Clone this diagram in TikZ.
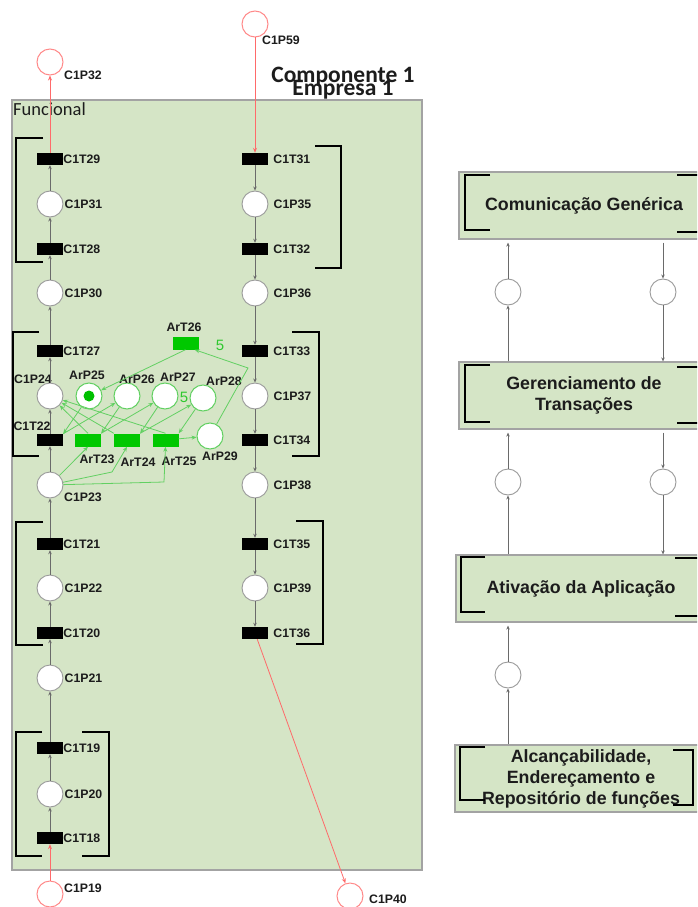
\documentclass[tikz,border=0pt]{standalone}
\usepackage{fontspec}
\setmainfont{Liberation Sans}
\newfontfamily\calib{Carlito}
\usetikzlibrary{arrows.meta,calc}

\definecolor{panel}{HTML}{D5E5C6}
\definecolor{panelline}{HTML}{A3A3A3}
\definecolor{plgray}{HTML}{9A9A9A}
\definecolor{arcgray}{HTML}{6A6A6A}
\definecolor{redc}{HTML}{FF8A8A}
\definecolor{redline}{HTML}{FF6A6A}
\definecolor{grline}{HTML}{62D062}
\definecolor{grfill}{HTML}{00C800}
\definecolor{grtok}{HTML}{00C000}
\definecolor{grtext}{HTML}{2FC82F}
\definecolor{txt}{HTML}{1C1C1C}

\newcommand\lblfont{\fontsize{12.3}{14}\selectfont\bfseries}
\newcommand\boxfont{\fontsize{17.8}{21}\selectfont\bfseries}

\begin{document}
\begin{tikzpicture}[x=1pt,y=-1pt,
  place/.style={circle, draw=plgray, fill=white, line width=0.9pt, minimum size=26pt, inner sep=0pt},
  trans/.style={rectangle, fill=black, minimum width=26pt, minimum height=12pt, inner sep=0pt},
  rplace/.style={circle, draw=redc, line width=1pt, minimum size=26pt, inner sep=0pt},
  aplace/.style={circle, draw=grline, fill=white, line width=1pt, minimum size=26pt, inner sep=0pt},
  atrans/.style={rectangle, fill=grfill, minimum width=26pt, minimum height=13pt, inner sep=0pt},
  lbl/.style={font=\lblfont, text=txt, inner sep=0pt},
  lr/.style={label={[lbl,label distance=1pt]right:#1}},
  rr/.style={label={[lbl,label distance=5pt]right:#1}},
  arc/.style={draw=arcgray, line width=0.8pt, -{Stealth[length=4pt,width=3.5pt]}},
  rarc/.style={draw=redline, line width=0.8pt, -{Stealth[length=5pt,width=4pt]}},
  garc/.style={draw=grline, line width=0.8pt, -{Stealth[length=5pt,width=4pt]}},
  brk/.style={draw=black, line width=2.8pt},
  layer/.style={rectangle, draw=panelline, fill=panel, line width=1.2pt, inner sep=0pt,
    font=\boxfont, text=txt, align=center},
  five/.style={text=grtext, font=\fontsize{15}{16}\selectfont, inner sep=0pt}
]
\useasboundingbox (0,0) rectangle (697,907);
\clip (0,0) rectangle (697,907);

% ---------------- functional panel ----------------
\draw[panelline, fill=panel, line width=1.5pt] (12,100) rectangle (422,870);
\node[font=\calib\fontsize{18.5}{20}\selectfont, text=txt, anchor=base west, inner sep=0pt] (funcional) at (13,115) {Funcional};
\node[font=\calib\bfseries\fontsize{23.5}{26}\selectfont, text=txt, anchor=base, inner sep=0pt] (comp) at (343,82) {Componente 1};
\node[font=\calib\bfseries\fontsize{23.5}{26}\selectfont, text=txt, anchor=base, inner sep=0pt] (emp) at (343,95) {Empresa 1};

% brackets grouping the left chain
\draw[brk] (43,138) -- (16,138) -- (16,262) -- (43,262);
\draw[brk] (39,332) -- (13,332) -- (13,456) -- (39,456);
\draw[brk] (43,522) -- (16,522) -- (16,645) -- (43,645);
\draw[brk] (42,732) -- (16,732) -- (16,856) -- (42,856);
\draw[brk] (82,732) -- (109,732) -- (109,856) -- (82,856);
% brackets grouping the right chain
\draw[brk] (315,146) -- (341,146) -- (341,268) -- (315,268);
\draw[brk] (292,332) -- (319,332) -- (319,456) -- (292,456);
\draw[brk] (296,521) -- (323,521) -- (323,644) -- (296,644);

% ---------------- left chain (upwards) ----------------
\node[rplace] (C1P32) at (50,62) {};
\node[trans, label={[lbl]right:C1T29}] (C1T29) at (50,159) {};
\node[place, lr=C1P31] (C1P31) at (50,204) {};
\node[trans, label={[lbl]right:C1T28}] (C1T28) at (50,249) {};
\node[place, lr=C1P30] (C1P30) at (50,293) {};
\node[trans, label={[lbl]right:C1T27}] (C1T27) at (50,351) {};
\node[place] (C1P24) at (50,396) {};
\node[trans] (C1T22) at (50,440) {};
\node[place] (C1P23) at (50,485) {};
\node[trans, label={[lbl]right:C1T21}] (C1T21) at (50,544) {};
\node[place, lr=C1P22] (C1P22) at (50,588) {};
\node[trans, label={[lbl]right:C1T20}] (C1T20) at (50,633) {};
\node[place, lr=C1P21] (C1P21) at (50,678) {};
\node[trans, label={[lbl]right:C1T19}] (C1T19) at (50,748) {};
\node[place, lr=C1P20] (C1P20) at (50,794) {};
\node[trans, label={[lbl]right:C1T18}] (C1T18) at (50,838) {};
\node[rplace] (C1P19) at (50,894) {};

\node[lbl] (C1P24l) at (33,379) {C1P24};
\node[lbl] (C1T22l) at (32,426) {C1T22};
\node[lbl] (C1P23l) at (83,497) {C1P23};
\node[lbl, anchor=west] (C1P32l) at (64,75) {C1P32};
\node[lbl, anchor=west] (C1P19l) at (64,888) {C1P19};

\draw[rarc] (C1P19) -- (C1T18);
\draw[arc] (C1T18) -- (C1P20);
\draw[arc] (C1P20) -- (C1T19);
\draw[arc] (C1T19) -- (C1P21);
\draw[arc] (C1P21) -- (C1T20);
\draw[arc] (C1T20) -- (C1P22);
\draw[arc] (C1P22) -- (C1T21);
\draw[arc] (C1T21) -- (C1P23);
\draw[arc] (C1P23) -- (C1T22);
\draw[arc] (C1T22) -- (C1P24);
\draw[arc] (C1P24) -- (C1T27);
\draw[arc] (C1T27) -- (C1P30);
\draw[arc] (C1P30) -- (C1T28);
\draw[arc] (C1T28) -- (C1P31);
\draw[arc] (C1P31) -- (C1T29);
\draw[rarc] (C1T29) -- (C1P32);

% ---------------- right chain (downwards) ----------------
\node[rplace] (C1P59) at (255,24) {};
\node[trans, rr=C1T31] (C1T31) at (255,159) {};
\node[place, rr=C1P35] (C1P35) at (255,204) {};
\node[trans, rr=C1T32] (C1T32) at (255,249) {};
\node[place, rr=C1P36] (C1P36) at (255,293) {};
\node[trans, rr=C1T33] (C1T33) at (255,351) {};
\node[place, rr=C1P37] (C1P37) at (255,396) {};
\node[trans, rr=C1T34] (C1T34) at (255,440) {};
\node[place, rr=C1P38] (C1P38) at (255,485) {};
\node[trans, rr=C1T35] (C1T35) at (255,544) {};
\node[place, rr=C1P39] (C1P39) at (255,588) {};
\node[trans, rr=C1T36] (C1T36) at (255,633) {};
\node[rplace] (C1P40) at (350,896) {};
\node[lbl, anchor=west] (C1P59l) at (262,40) {C1P59};
\node[lbl, anchor=west] (C1P40l) at (369,899) {C1P40};

\draw[rarc] (C1P59) -- (C1T31);
\draw[arc] (C1T31) -- (C1P35);
\draw[arc] (C1P35) -- (C1T32);
\draw[arc] (C1T32) -- (C1P36);
\draw[arc] (C1P36) -- (C1T33);
\draw[arc] (C1T33) -- (C1P37);
\draw[arc] (C1P37) -- (C1T34);
\draw[arc] (C1T34) -- (C1P38);
\draw[arc] (C1P38) -- (C1T35);
\draw[arc] (C1T35) -- (C1P39);
\draw[arc] (C1P39) -- (C1T36);
\draw[rarc] (C1T36) -- (C1P40);

% ---------------- refinement subnet ----------------
\node[atrans] (ArT26) at (185.5,343) {};
\node[aplace] (ArP25) at (89,396) {};
\node[circle, fill=grtok, minimum size=11pt, inner sep=0pt] (tok25) at (ArP25) {};
\node[aplace] (ArP26) at (127,396) {};
\node[aplace] (ArP27) at (165,396) {};
\node[aplace] (ArP28) at (203,398) {};
\node[aplace] (ArP29) at (210,436) {};
\node[atrans] (ArT23) at (88,440) {};
\node[atrans] (ArT24) at (127,440) {};
\node[atrans] (ArT25) at (165.5,440) {};

\node[lbl] (ArT26l) at (184,327) {ArT26};
\node[lbl] (ArP25l) at (87,375) {ArP25};
\node[lbl] (ArP26l) at (137,379) {ArP26};
\node[lbl] (ArP27l) at (178,377) {ArP27};
\node[lbl] (ArP28l) at (224,381) {ArP28};
\node[lbl] (ArT23l) at (97,459) {ArT23};
\node[lbl] (ArT24l) at (138,462) {ArT24};
\node[lbl] (ArT25l) at (179,461) {ArT25};
\node[lbl] (ArP29l) at (220,456) {ArP29};
\node[five] (w26) at (220,345) {5};
\node[five] (w28) at (184,397) {5};

\coordinate (bend29) at (248,368);
\coordinate (k24) at (112,472);
\coordinate (k25) at (164,482);

\draw[garc] (ArT26.south) -- (ArP25);
\draw[garc] (ArP29) -- (bend29) -- ([xshift=-4pt]ArT26.south east);
\draw[garc] (ArP25) -- (C1T22.north east);
\draw[garc] (C1T22.north east) -- (ArP26);
\draw[garc] (ArP26) -- (ArT23.north east);
\draw[garc] (ArT23.north east) -- (ArP27);
\draw[garc] (ArP27) -- (ArT24.north east);
\draw[garc] (ArT24.north east) -- (ArP28);
\draw[garc] (ArP28) -- (ArT25.north east);
\draw[garc] (ArT25) -- (ArP29);
\draw[garc] (ArT23.north) -- (C1P24);
\draw[garc] (ArT24.north west) -- (C1P24);
\draw[garc] (ArT25.north) -- (C1P24);
\draw[garc] (C1P23) -- (ArT23.south);
\draw[garc] (C1P23) -- (k24) -- (ArT24.south);
\draw[garc] (C1P23) -- (k25) -- (ArT25.south);

% ---------------- layer stack ----------------
\node[layer, minimum width=250pt, minimum height=67pt] (L1) at (584,205.5) {Comunicação Genérica};
\node[layer, minimum width=250pt, minimum height=67pt] (L2) at (584,395.5) {\fontsize{17.8}{22}\selectfont Gerenciamento de\\Transações};
\node[layer, minimum width=250pt, minimum height=67pt] (L3) at (581,588.5) {Ativação da Aplicação};
\node[layer, minimum width=252pt, minimum height=67pt] (L4) at (581,778.5) {\fontsize{17.8}{19.5}\selectfont Alcançabilidade,\\Endereçamento e\\Repositório de funções};

\draw[brk] (490,175) -- (465,175) -- (465,230) -- (490,230);
\draw[brk] (677,175) -- (705,175) -- (705,232) -- (677,232);
\draw[brk] (490,365) -- (465,365) -- (465,422) -- (490,422);
\draw[brk] (677,367) -- (705,367) -- (705,423) -- (677,423);
\draw[brk] (485,557) -- (461,557) -- (461,612) -- (485,612);
\draw[brk] (675,558) -- (705,558) -- (705,616) -- (675,616);
\draw[brk] (485,747) -- (460,747) -- (460,800) -- (485,800);
\draw[brk] (673,750) -- (693,750) -- (693,805) -- (673,805);

\node[place] (q1L) at (508,292) {};
\node[place] (q1R) at (663,292) {};
\node[place] (q2L) at (508,482) {};
\node[place] (q2R) at (663,482) {};
\node[place] (q3L) at (508,675) {};

\draw[arc] (q1L |- L2.north) -- (q1L);
\draw[arc, shorten >=3pt] (q1L) -- (q1L |- L1.south);
\draw[arc, shorten <=3pt] (q1R |- L1.south) -- (q1R);
\draw[arc] (q1R) -- (q1R |- L2.north);
\draw[arc] (q2L |- L3.north) -- (q2L);
\draw[arc, shorten >=3pt] (q2L) -- (q2L |- L2.south);
\draw[arc, shorten <=3pt] (q2R |- L2.south) -- (q2R);
\draw[arc] (q2R) -- (q2R |- L3.north);
\draw[arc] (q3L |- L4.north) -- (q3L);
\draw[arc, shorten >=3pt] (q3L) -- (q3L |- L3.south);
\end{tikzpicture}
\end{document}
